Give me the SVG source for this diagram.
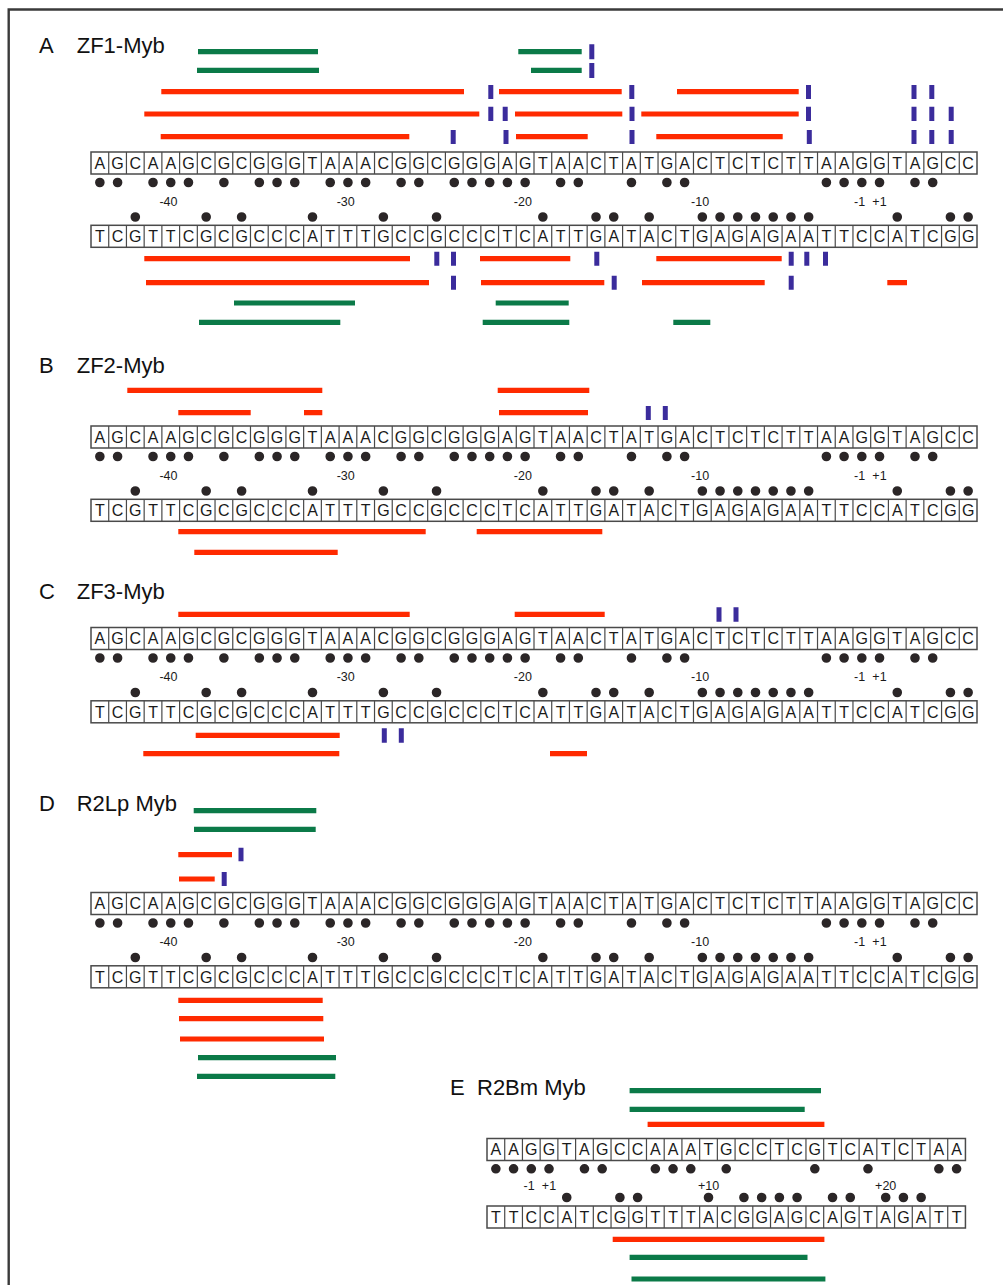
<svg xmlns="http://www.w3.org/2000/svg" xmlns:xlink="http://www.w3.org/1999/xlink" width="1003" height="1285" viewBox="0 0 1003 1285">
  <style>
    .frame { fill: none; stroke: #3a3a3a; stroke-width: 2.4; }
    .title { font-family: "Liberation Sans", Arial, sans-serif; font-size: 22px; fill: #111; }
    .base { font-family: "Liberation Sans", Arial, sans-serif; font-size: 16px; fill: #1a1a1a; text-anchor: middle; }
    .pos { font-family: "Liberation Sans", Arial, sans-serif; font-size: 12.5px; fill: #1a1a1a; text-anchor: middle; }
    .box { fill: #fff; stroke: #4a4a4a; stroke-width: 1.5; }
    .div { fill: none; stroke: #4a4a4a; stroke-width: 1.2; }
    .dots { fill: none; stroke: #2b2627; stroke-width: 9.6; stroke-linecap: round; }
    .red { fill: none; stroke: #ff2a00; stroke-width: 5.2; }
    .green { fill: none; stroke: #0b7a48; stroke-width: 5.2; }
    .purple { fill: none; stroke: #3b2c9c; stroke-width: 5; }
  </style>
  <defs>
    <!-- 50-cell strand box with cell dividers -->
    <g id="strand50">
      <rect class="box" x="0" y="0" width="886" height="22"/>
      <path class="div" d="M17.72 0v22M35.44 0v22M53.16 0v22M70.88 0v22M88.6 0v22M106.32 0v22M124.04 0v22M141.76 0v22M159.48 0v22M177.2 0v22M194.92 0v22M212.64 0v22M230.36 0v22M248.08 0v22M265.8 0v22M283.52 0v22M301.24 0v22M318.96 0v22M336.68 0v22M354.4 0v22M372.12 0v22M389.84 0v22M407.56 0v22M425.28 0v22M443 0v22M460.72 0v22M478.44 0v22M496.16 0v22M513.88 0v22M531.6 0v22M549.32 0v22M567.04 0v22M584.76 0v22M602.48 0v22M620.2 0v22M637.92 0v22M655.64 0v22M673.36 0v22M691.08 0v22M708.8 0v22M726.52 0v22M744.24 0v22M761.96 0v22M779.68 0v22M797.4 0v22M815.12 0v22M832.84 0v22M850.56 0v22M868.28 0v22"/>
    </g>
    <!-- 27-cell strand box -->
    <g id="strand27">
      <rect class="box" x="0" y="0" width="478.44" height="22"/>
      <path class="div" d="M17.72 0v22M35.44 0v22M53.16 0v22M70.88 0v22M88.6 0v22M106.32 0v22M124.04 0v22M141.76 0v22M159.48 0v22M177.2 0v22M194.92 0v22M212.64 0v22M230.36 0v22M248.08 0v22M265.8 0v22M283.52 0v22M301.24 0v22M318.96 0v22M336.68 0v22M354.4 0v22M372.12 0v22M389.84 0v22M407.56 0v22M425.28 0v22M443 0v22M460.72 0v22"/>
    </g>
    <!-- promoter duplex -45..+6 with purine dots and position numbers -->
    <g id="duplex">
      <use xlink:href="#strand50" href="#strand50"/>
      <text class="base" y="16.7" x="8.86 26.58 44.3 62.02 79.74 97.46 115.18 132.9 150.62 168.34 186.06 203.78 221.5 239.22 256.94 274.66 292.38 310.1 327.82 345.54 363.26 380.98 398.7 416.42 434.14 451.86 469.58 487.3 505.02 522.74 540.46 558.18 575.9 593.62 611.34 629.06 646.78 664.5 682.22 699.94 717.66 735.38 753.1 770.82 788.54 806.26 823.98 841.7 859.42 877.14">AGCAAGCGCGGGTAAACGGCGGGAGTAACTATGACTCTCTTAAGGTAGCC</text>
      <path class="dots" d="M8.86 30.5h0M26.58 30.5h0M62.02 30.5h0M79.74 30.5h0M97.46 30.5h0M132.9 30.5h0M168.34 30.5h0M186.06 30.5h0M203.78 30.5h0M239.22 30.5h0M256.94 30.5h0M274.66 30.5h0M310.1 30.5h0M327.82 30.5h0M363.26 30.5h0M380.98 30.5h0M398.7 30.5h0M416.42 30.5h0M434.14 30.5h0M469.58 30.5h0M487.3 30.5h0M540.46 30.5h0M575.9 30.5h0M593.62 30.5h0M735.38 30.5h0M753.1 30.5h0M770.82 30.5h0M788.54 30.5h0M823.98 30.5h0M841.7 30.5h0"/>
      <text class="pos" x="77.5" y="53.5">-40</text>
      <text class="pos" x="254.7" y="53.5">-30</text>
      <text class="pos" x="431.9" y="53.5">-20</text>
      <text class="pos" x="609.1" y="53.5">-10</text>
      <text class="pos" x="768.6" y="53.5">-1</text>
      <text class="pos" x="788.5" y="53.5">+1</text>
      <path class="dots" d="M44.3 65h0M115.18 65h0M150.62 65h0M221.5 65h0M292.38 65h0M345.54 65h0M451.86 65h0M505.02 65h0M522.74 65h0M558.18 65h0M611.34 65h0M629.06 65h0M646.78 65h0M664.5 65h0M682.22 65h0M699.94 65h0M717.66 65h0M806.26 65h0M859.42 65h0M877.14 65h0"/>
      <use xlink:href="#strand50" href="#strand50" y="73.3"/>
      <text class="base" y="90" x="8.86 26.58 44.3 62.02 79.74 97.46 115.18 132.9 150.62 168.34 186.06 203.78 221.5 239.22 256.94 274.66 292.38 310.1 327.82 345.54 363.26 380.98 398.7 416.42 434.14 451.86 469.58 487.3 505.02 522.74 540.46 558.18 575.9 593.62 611.34 629.06 646.78 664.5 682.22 699.94 717.66 735.38 753.1 770.82 788.54 806.26 823.98 841.7 859.42 877.14">TCGTTCGCGCCCATTTGCCGCCCTCATTGATACTGAGAGAATTCCATCGG</text>
    </g>
  </defs>

  <!-- figure frame -->
  <path class="frame" d="M8.7 1285V9.5H1003"/>

  <!-- A: ZF1-Myb -->
  <g id="panel-a">
    <text class="title" x="39" y="53">A</text>
    <text class="title" x="76.7" y="53">ZF1-Myb</text>
    <use xlink:href="#duplex" href="#duplex" x="91" y="152"/>
    <path class="green" d="M198 51.7H318M518.3 51.7H581.7M197 70.3H319M531 70.3H581.7M234 303H355M495.7 303H568.7M199 322.3H340.3M482.7 322.3H569.3M673.3 322.3H710.3"/>
    <path class="red" d="M161.3 91.7H464M499 91.7H621.7M677 91.7H798.7M144.3 114H479.3M515 114H622.3M641.3 114H798.7M160.7 136.7H409.3M516 136.7H587.7M656.3 136.7H782.7M144.3 258.7H410M480 258.7H570.3M656.3 258.7H781.7M146 282.7H429M481 282.7H604.3M642 282.7H764.7M887.3 282.7H907"/>
    <path class="purple" d="M591.8 44.3V59.3M591.8 63V78M490.8 85V99M631.8 85V99M808.5 85V99M914 85V99M931.8 85V99M490.8 106.7V121M505.2 106.7V121M632 106.7V121M808.5 106.7V121M914 106.7V121M931.8 106.7V121M951.2 106.7V121M453.2 130V144M506 130V144M632 130V144M809.3 130V144M914 130V144M931.8 130V144M951.2 130V144M436.8 251.7V265.7M453.5 251.7V265.7M596.8 251.7V265.7M791.2 251.7V265.7M806.8 251.7V265.7M825.5 251.7V265.7M453.5 275.7V289.7M614.2 275.7V289.7M791.2 275.7V289.7"/>
  </g>

  <!-- B: ZF2-Myb -->
  <g id="panel-b">
    <text class="title" x="39" y="373.3">B</text>
    <text class="title" x="76.7" y="373.3">ZF2-Myb</text>
    <use xlink:href="#duplex" href="#duplex" x="91" y="426"/>
    <path class="red" d="M127.3 390.3H322.3M497.7 390.3H589.3M178.3 412.7H250.7M304 412.7H322.3M499 412.7H588M178.3 531.7H425.7M476.7 531.7H602.3M194.3 552.3H337.7"/>
    <path class="purple" d="M648.3 406V420M665.3 406V420"/>
  </g>

  <!-- C: ZF3-Myb -->
  <g id="panel-c">
    <text class="title" x="39" y="599.3">C</text>
    <text class="title" x="76.7" y="599.3">ZF3-Myb</text>
    <use xlink:href="#duplex" href="#duplex" x="91" y="627.5"/>
    <path class="red" d="M178.3 614.3H409.7M514.7 614.3H604.7M195.7 735.3H339.7M143.3 753.7H339.3M550 753.7H587"/>
    <path class="purple" d="M719 607.3V621.7M736 607.3V621.7M384.3 728.3V742.7M401.3 728.3V742.7"/>
  </g>

  <!-- D: R2Lp Myb -->
  <g id="panel-d">
    <text class="title" x="39" y="810.7">D</text>
    <text class="title" x="76.7" y="810.7">R2Lp Myb</text>
    <use xlink:href="#duplex" href="#duplex" x="91" y="892.5"/>
    <path class="green" d="M193.7 810.7H316.3M194 829.3H315.7M198 1057.7H336M197 1076.3H335.3"/>
    <path class="red" d="M178.3 854.7H232M179 879H214.7M178.3 1000.3H322.7M179 1018.7H323.3M180 1039H324"/>
    <path class="purple" d="M241 847.7V861.3M224.2 872V886"/>
  </g>

  <!-- E: R2Bm Myb, downstream duplex -->
  <g id="panel-e">
    <text class="title" x="450" y="1095">E</text>
    <text class="title" x="477" y="1095">R2Bm Myb</text>
    <g transform="translate(487 1138.5)">
      <use xlink:href="#strand27" href="#strand27"/>
      <text class="base" y="16.7" x="8.86 26.58 44.3 62.02 79.74 97.46 115.18 132.9 150.62 168.34 186.06 203.78 221.5 239.22 256.94 274.66 292.38 310.1 327.82 345.54 363.26 380.98 398.7 416.42 434.14 451.86 469.58">AAGGTAGCCAAATGCCTCGTCATCTAA</text>
      <path class="dots" d="M8.86 30.3h0M26.58 30.3h0M44.3 30.3h0M62.02 30.3h0M97.46 30.3h0M115.18 30.3h0M168.34 30.3h0M186.06 30.3h0M203.78 30.3h0M239.22 30.3h0M327.82 30.3h0M380.98 30.3h0M451.86 30.3h0M469.58 30.3h0"/>
      <text class="pos" x="42.1" y="51">-1</text>
      <text class="pos" x="62" y="51">+1</text>
      <text class="pos" x="221.5" y="51">+10</text>
      <text class="pos" x="398.7" y="51">+20</text>
      <path class="dots" d="M79.74 59h0M132.9 59h0M150.62 59h0M221.5 59h0M256.94 59h0M274.66 59h0M292.38 59h0M310.1 59h0M345.54 59h0M363.26 59h0M398.7 59h0M416.42 59h0M434.14 59h0"/>
      <use xlink:href="#strand27" href="#strand27" y="67.5"/>
      <text class="base" y="84.2" x="8.86 26.58 44.3 62.02 79.74 97.46 115.18 132.9 150.62 168.34 186.06 203.78 221.5 239.22 256.94 274.66 292.38 310.1 327.82 345.54 363.26 380.98 398.7 416.42 434.14 451.86 469.58">TTCCATCGGTTTACGGAGCAGTAGATT</text>
    </g>
    <path class="green" d="M629.6 1090.7H821M629.6 1109.3H804.7M629.6 1257.3H807.5M631.5 1279H825.4"/>
    <path class="red" d="M647.6 1124.3H824.4M612.7 1239.3H824.4"/>
  </g>
</svg>
